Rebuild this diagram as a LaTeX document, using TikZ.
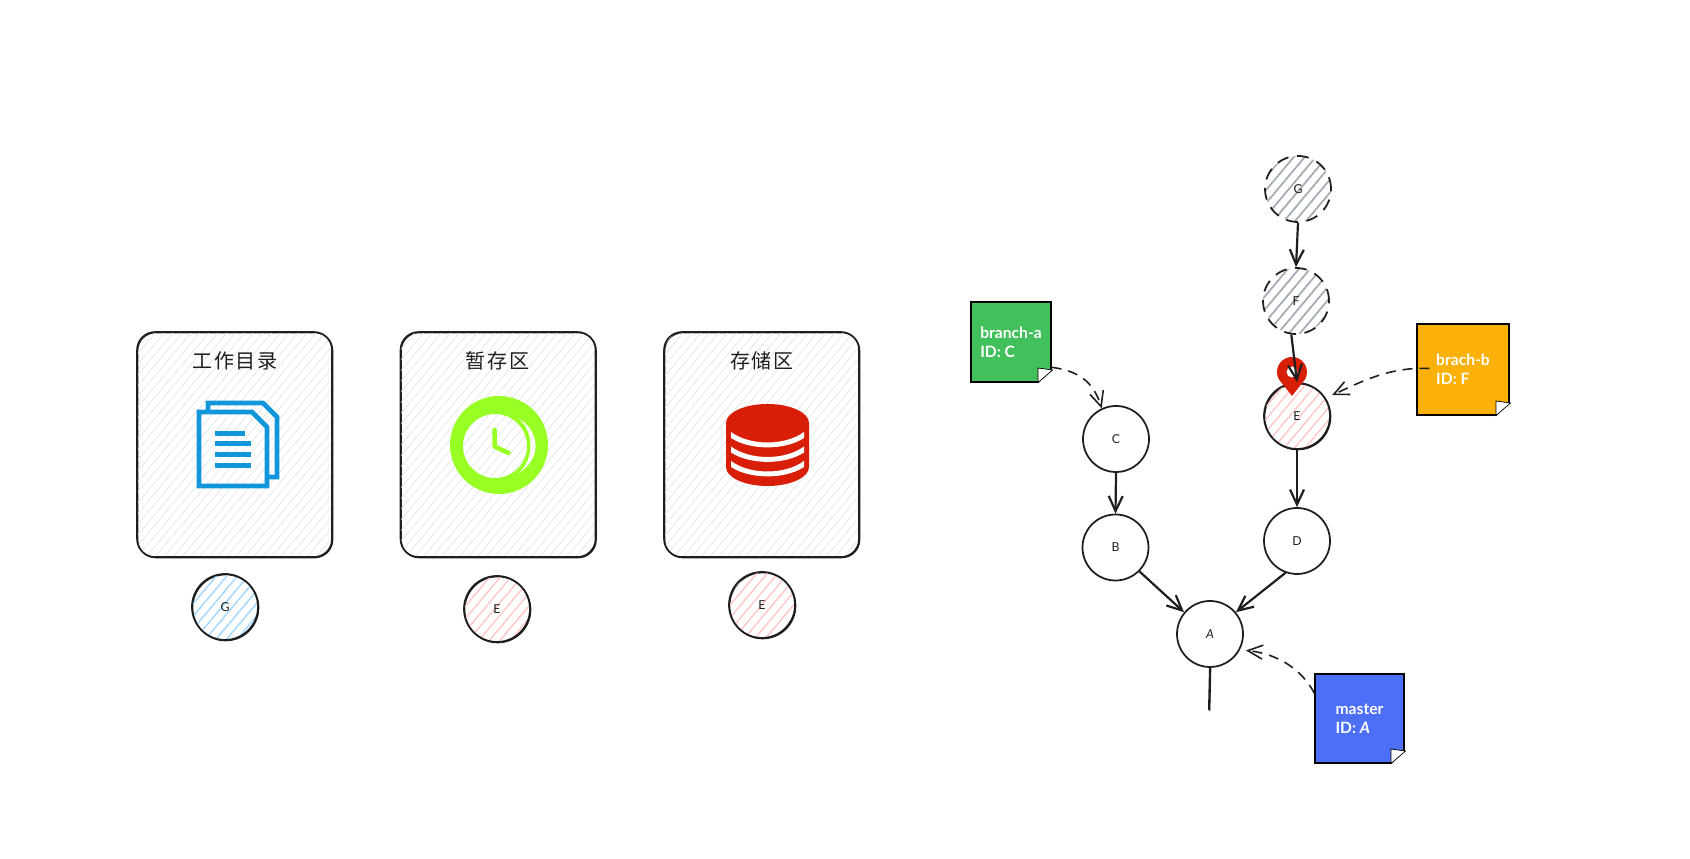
\documentclass[tikz,border=0pt]{standalone}
\usepackage{fontspec}
\setmainfont{Lato}
\newfontfamily\cjk{Noto Sans CJK SC}
\usetikzlibrary{positioning,calc,arrows.meta,patterns.meta}
\definecolor{inkc}{HTML}{1E1E1E}
\definecolor{docblue}{HTML}{1296DB}
\definecolor{clockgreen}{HTML}{98FF24}
\definecolor{dbred}{HTML}{D81E06}
\definecolor{stickgreen}{HTML}{41C05B}
\definecolor{stickorange}{HTML}{FCB108}
\definecolor{stickblue}{HTML}{4B6FF6}
\definecolor{hatchbox}{HTML}{E7EAED}
\definecolor{hatchb}{HTML}{A5D8FF}
\definecolor{hatchp}{HTML}{FFC9C9}
\definecolor{hatchg}{HTML}{A3ABB3}
\tikzset{
  rough/.style     = {preaction={draw, color=inkc, line width=0.7pt,
                      transform canvas={shift={(0.4pt,-0.4pt)}}}},
  workbox/.style   = {draw=inkc, line width=0.9pt, rounded corners=0.36cm, rough,
                      minimum width=3.9cm, minimum height=4.5cm,
                      pattern={Lines[angle=50,distance=3.9pt,line width=0.55pt]},
                      pattern color=hatchbox},
  boxtitle/.style  = {font=\cjk\fontsize{11.4pt}{13pt}\selectfont, text=inkc, inner sep=0pt},
  commit/.style    = {circle, draw=inkc, line width=1pt, minimum size=1.32cm, inner sep=0pt,
                      font=\fontsize{7pt}{8pt}\selectfont, text=inkc},
  hatchblue/.style = {rough, pattern={Lines[angle=50,distance=4.6pt,line width=0.85pt]},
                      pattern color=hatchb},
  hatchpink/.style = {rough, pattern={Lines[angle=50,distance=4.6pt,line width=0.85pt]},
                      pattern color=hatchp},
  hatchgrey/.style = {dash pattern=on 0.24cm off 0.17cm,
                      pattern={Lines[angle=50,distance=4.8pt,line width=1pt]},
                      pattern color=hatchg},
  stick/.style     = {draw=black, line width=0.6pt, text=white, align=left, inner sep=0pt,
                      font=\bfseries\fontsize{8.9pt}{10.8pt}\selectfont},
  arr/.style       = {draw=inkc, line width=1.25pt,
                      -{Straight Barb[length=3mm,width=2.8mm]}},
  darr/.style      = {draw=inkc, line width=0.9pt, dash pattern=on 0.2cm off 0.14cm,
                      -{Straight Barb[length=3mm,width=2.8mm]}},
}
\newcommand{\stickfold}[1]{
  \fill[white] ($(#1.south east)+(-0.27,-0.02)$) -- ($(#1.south east)+(0.03,-0.02)$)
    -- ($(#1.south east)+(0.03,0.27)$) -- cycle;
  \draw[fill=white, line width=0.4pt] ($(#1.south east)+(-0.27,0.29)$)
    -- ($(#1.south east)+(0.02,0.25)$) -- ($(#1.south east)+(-0.27,0)$) -- cycle;
}
\begin{document}
\begin{tikzpicture}
  \useasboundingbox (0,0) rectangle (33.8,17.18);
  % three areas
  \node[workbox] (work) at (4.69,8.29) {};
  \node[workbox] (stage) at (9.96,8.29) {};
  \node[workbox] (store) at (15.23,8.29) {};
  \node[boxtitle] (workt) at (4.70,9.96) {工\hspace{.08em}作\hspace{.08em}目\hspace{.08em}录};
  \node[boxtitle] (staget) at (9.95,9.96) {暂\hspace{.08em}存\hspace{.08em}区};
  \node[boxtitle] (storet) at (15.24,9.96) {存\hspace{.08em}储\hspace{.08em}区};
  % document icon
  \draw[docblue, line width=2.7pt, miter limit=10] (4.16,8.94)--(4.16,9.12)--(5.26,9.12)
    --(5.54,8.84)--(5.54,7.64)--(5.34,7.64);
  \draw[docblue, line width=2.7pt] (3.98,8.94)--(5.04,8.94)--(5.34,8.64)--(5.34,7.46)
    --(3.98,7.46)--cycle;
  \draw[docblue, line width=2.85pt] (4.30,8.50)--(4.90,8.50);
  \foreach \y in {8.30,8.08,7.86}
    \draw[docblue, line width=2.85pt] (4.30,\y)--(5.02,\y);
  % clock icon
  \fill[clockgreen, even odd rule] (9.98,8.28) circle (0.98) (9.90,8.26) circle (0.64)
    (10.33,8.83) .. controls (10.84,8.6) and (10.84,7.93) .. (10.33,7.70)
    .. controls (10.70,7.93) and (10.70,8.6) .. (10.33,8.83);
  \draw[clockgreen, line width=2.56pt, line cap=round, line join=round]
    (9.89,8.58)--(9.89,8.25)--(10.17,8.12);
  % database icon
  \fill[dbred] (14.52,8.72) arc[x radius=0.83,y radius=0.38,start angle=180,end angle=0]
    --(16.18,7.84) arc[x radius=0.83,y radius=0.38,start angle=0,end angle=-180]--cycle;
  \foreach \d in {0,0.29,0.58}
    \fill[white,yshift=-\d cm] (14.62,8.54) .. controls (15,8.26) and (15.7,8.26) .. (16.08,8.54)
      --(16.08,8.42) .. controls (15.7,8.17) and (15,8.17) .. (14.62,8.42)--cycle;
  % commits under the areas
  \node[commit,hatchblue] (gw) at (4.50,5.04) {G};
  \node[commit,hatchpink] (es) at (9.94,5.00) {E};
  \node[commit,hatchpink] (er) at (15.24,5.08) {E};
  % history
  \node[commit,hatchgrey] (g) at (25.96,13.40) {G};
  \node[commit,hatchgrey] (f) at (25.92,11.16) {F};
  \node[commit,hatchpink] (e) at (25.94,8.86) {E};
  \node[commit] (d) at (25.94,6.36) {D};
  \node[commit] (c) at (22.32,8.40) {C};
  \node[commit] (b) at (22.31,6.23) {B};
  \node[commit] (a) at (24.20,4.50) {\textit{A}};
  \coordinate (tail) at (24.18,2.98);
  % pin on E
  \fill[dbred] (25.84,9.26)--(25.58,9.59) arc[start angle=210,end angle=-30,radius=0.3]--cycle;
  \fill[white] (25.84,9.74) circle (0.11);
  \draw[arr] (g.south)--(f.north);
  \draw[arr] (f.262)--(e.north);
  \draw[arr] (e.south)--(d.north);
  \draw[arr] (c.south)--(b.north);
  \draw[arr] (b.-45)--(a.140);
  \draw[arr] (d.250)--(a.40);
  \draw[draw=inkc, line width=1.15pt, rough] (a.south)--(tail);
  % branch notes
  \node[stick, fill=stickgreen, minimum width=1.6cm, minimum height=1.6cm] (notea) at (20.22,10.34)
    {branch-a\\ID: C};
  \node[stick, fill=stickorange, minimum width=1.84cm, minimum height=1.82cm] (noteb) at (29.26,9.79)
    {brach-b\\ID: F};
  \node[stick, fill=stickblue, minimum width=1.78cm, minimum height=1.78cm] (notem) at (27.19,2.81)
    {master\\ID: \textit{A}};
  \stickfold{notea}
  \stickfold{noteb}
  \stickfold{notem}
  \draw[darr] (notea.-32) .. controls +(0.64,-0.08) and +(-0.14,0.44) .. (c.115);
  \draw[darr, shorten >=0.14cm] ($(noteb.west)+(0.26,0.02)$) .. controls +(-0.8,0.04) and +(0.7,0.32) .. (e.32);
  \draw[darr, shorten >=0.12cm] (notem.151) .. controls +(-0.3,0.58) and +(0.62,-0.06) .. (a.-28);
\end{tikzpicture}
\end{document}
